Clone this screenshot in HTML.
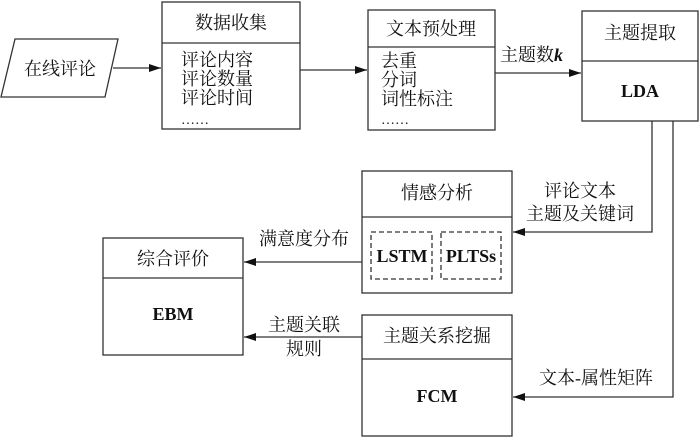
<!DOCTYPE html>
<html><head><meta charset="utf-8"><style>
html,body{margin:0;padding:0;background:#fff;}
svg{display:block;}
text{font-family:"Liberation Serif","Noto Serif CJK SC","Noto Sans CJK SC",serif;font-size:18px;fill:#111;}
.b{font-weight:bold;font-family:"Liberation Serif",serif;}
</style></head><body>
<svg width="700" height="437" viewBox="0 0 700 437" xmlns="http://www.w3.org/2000/svg">
<defs><marker id="a" markerWidth="12" markerHeight="8" refX="12" refY="4" orient="auto" markerUnits="userSpaceOnUse"><path d="M0,0 L12,4 L0,8 z" fill="#111"/></marker></defs>
<g fill="none" stroke="#333" stroke-width="1.3">
<polygon points="15,39 118,39 105,97 1,97"/>
<rect x="162" y="2" width="138" height="127"/><line x1="162" y1="43" x2="300" y2="43"/>
<rect x="368" y="10" width="127" height="120"/><line x1="368" y1="47" x2="495" y2="47"/>
<rect x="582" y="11" width="116" height="110"/><line x1="582" y1="61" x2="698" y2="61"/>
<rect x="362" y="171" width="150" height="122"/><line x1="362" y1="217" x2="512" y2="217"/>
<rect x="371" y="232" width="61" height="47" stroke-dasharray="5,3"/>
<rect x="441" y="232" width="60" height="47" stroke-dasharray="5,3"/>
<rect x="103" y="238" width="140" height="117"/><line x1="103" y1="278" x2="243" y2="278"/>
<rect x="362" y="315" width="150" height="121"/><line x1="362" y1="359" x2="512" y2="359"/>
<line x1="113" y1="68" x2="161" y2="68" marker-end="url(#a)"/>
<line x1="300" y1="70" x2="367" y2="70" marker-end="url(#a)"/>
<line x1="495" y1="73" x2="581" y2="73" marker-end="url(#a)"/>
<polyline points="652,121 652,232 513,232" marker-end="url(#a)"/>
<polyline points="673,121 673,397 513,397" marker-end="url(#a)"/>
<line x1="362" y1="262" x2="244" y2="262" marker-end="url(#a)"/>
<line x1="362" y1="337" x2="244" y2="337" marker-end="url(#a)"/>
</g>
<text x="60" y="75" text-anchor="middle">在线评论</text>
<text x="231" y="29" text-anchor="middle">数据收集</text>
<text x="181" y="66">评论内容</text>
<text x="181" y="85">评论数量</text>
<text x="181" y="104">评论时间</text>
<text x="181" y="124" style="font-size:14px">……</text>
<text x="431" y="35" text-anchor="middle">文本预处理</text>
<text x="381" y="67">去重</text>
<text x="381" y="86">分词</text>
<text x="381" y="105">词性标注</text>
<text x="381" y="124" style="font-size:14px">……</text>
<text x="500" y="61">主题数<tspan class="b" font-style="italic">k</tspan></text>
<text x="640" y="39" text-anchor="middle">主题提取</text>
<text x="640" y="97" text-anchor="middle" class="b">LDA</text>
<text x="437" y="199" text-anchor="middle">情感分析</text>
<text x="402" y="262" text-anchor="middle" class="b">LSTM</text>
<text x="471" y="262" text-anchor="middle" class="b">PLTSs</text>
<text x="580" y="197" text-anchor="middle">评论文本</text>
<text x="580" y="220" text-anchor="middle">主题及关键词</text>
<text x="304" y="245" text-anchor="middle">满意度分布</text>
<text x="173" y="265" text-anchor="middle">综合评价</text>
<text x="173" y="320" text-anchor="middle" class="b">EBM</text>
<text x="304" y="331" text-anchor="middle">主题关联</text>
<text x="304" y="355" text-anchor="middle">规则</text>
<text x="437" y="342" text-anchor="middle">主题关系挖掘</text>
<text x="437" y="402" text-anchor="middle" class="b">FCM</text>
<text x="596" y="384" text-anchor="middle">文本-属性矩阵</text>
</svg>
</body></html>
